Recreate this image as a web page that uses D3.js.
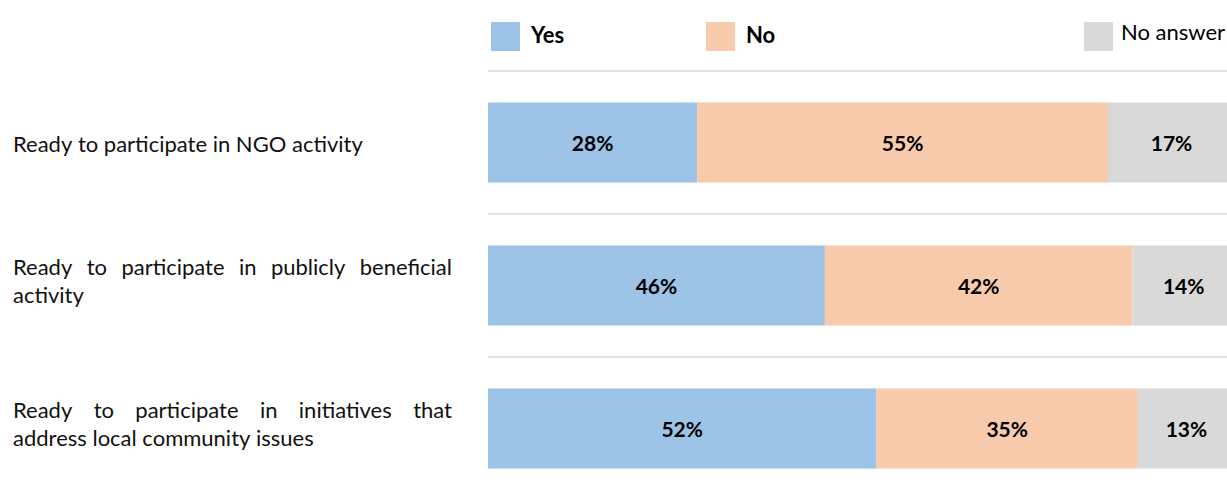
<!DOCTYPE html>
<html>
<head>
<meta charset="utf-8">
<script src="https://cdn.jsdelivr.net/npm/d3@7"></script>
<style>
  html, body { margin: 0; padding: 0; background: #fff; }
  svg { display: block; }
  text { font-family: Lato, "Open Sans", sans-serif; }
</style>
</head>
<body>
<div id="chart"></div>
<script>
// ---- data ----
const categories = [
  "Ready to participate in NGO activity",
  "Ready to participate in publicly beneficial\nactivity",
  "Ready to participate in initiatives that\naddress local community issues"
];
const seriesNames = ["Yes", "No", "No answer"];
const yesValues = [28, 46, 52];
const noValues = [55, 42, 35];
const noAnswerValues = [17, 14, 13];
const colors = ["#9DC3E6", "#F8CBAD", "#D9D9D9"];

// ---- layout ----
const W = 1227, H = 492;
const svg = d3.select("#chart").append("svg").attr("width", W).attr("height", H);

const seriesValues = [yesValues, noValues, noAnswerValues];
const rows = categories.map((c, i) => {
  const vals = seriesValues.map(s => s[i]);
  const total = d3.sum(vals);
  let acc = 0;
  const segs = vals.map((v, k) => {
    const s = { key: seriesNames[k], k, v, x0: acc / total, x1: (acc + v) / total };
    acc += v;
    return s;
  });
  return { cat: c, i, segs };
});

const x = d3.scaleLinear().domain([0, 1]).range([488, 1235]);
const y = d3.scaleBand().domain(d3.range(categories.length)).range([71, 500])
  .paddingInner(0.44).paddingOuter(0.22);
const step = y.step();

// gridlines (band boundaries)
const gridY = d3.range(categories.length + 1).map(i => y.range()[0] + i * step);
svg.append("g").selectAll("line").data(gridY).join("line")
  .attr("x1", 488).attr("x2", W)
  .attr("y1", d => d).attr("y2", d => d)
  .attr("stroke", "#d9d9d9").attr("stroke-width", 1.3);

// bars
const rowG = svg.append("g").selectAll("g").data(rows).join("g")
  .attr("transform", d => `translate(0,${y(d.i)})`);
rowG.selectAll("rect").data(d => d.segs).join("rect")
  .attr("x", d => x(d.x0)).attr("width", d => x(d.x1) - x(d.x0))
  .attr("y", 0).attr("height", y.bandwidth())
  .attr("fill", d => colors[d.k]);
rowG.selectAll("text.val").data(d => d.segs).join("text")
  .attr("class", "val")
  .attr("x", d => (x(d.x0) + Math.min(x(d.x1), W)) / 2 + (d.k === 2 ? 4 : 0))
  .attr("y", y.bandwidth() / 2 + 9)
  .attr("text-anchor", "middle")
  .attr("font-weight", "bold").attr("font-size", 21)
  .attr("fill", "#000")
  .text(d => d.v + "%");

// category labels (justified)
const labelLeft = 13, labelRight = 452, fs = 22, lineH = 28;
rows.forEach(r => {
  const lines = r.cat.split("\n");
  const cy = y(r.i) + y.bandwidth() / 2;
  const firstBase = lines.length === 1 ? cy + 9 : cy - 11;
  const g = svg.append("g");
  const measure = g.append("text").attr("font-size", fs);
  measure.text("a a"); const a = measure.node().getComputedTextLength();
  measure.text("aa"); const b = measure.node().getComputedTextLength();
  measure.remove();
  const spaceW = a - b;
  lines.forEach((ln, li) => {
    const base = firstBase + li * lineH;
    const words = ln.split(" ");
    const justify = li < lines.length - 1;
    const tmp = words.map(w => g.append("text").attr("font-size", fs).attr("fill", "#111").attr("y", base).text(w));
    const widths = tmp.map(t => t.node().getComputedTextLength());
    const gapW = justify && words.length > 1 ? (labelRight - labelLeft - d3.sum(widths)) / (words.length - 1) : spaceW;
    let cx = labelLeft;
    tmp.forEach((t, k) => { t.attr("x", cx); cx += widths[k] + gapW; });
  });
});

// legend
const legendItems = [
  { name: seriesNames[0], k: 0, x: 491, bold: true, ty: 43 },
  { name: seriesNames[1], k: 1, x: 706, bold: true, ty: 43 },
  { name: seriesNames[2], k: 2, x: 1084, bold: false, ty: 40 }
];
const lg = svg.append("g").selectAll("g").data(legendItems).join("g");
lg.append("rect").attr("x", d => d.x).attr("y", 22).attr("width", 29).attr("height", 29)
  .attr("fill", d => colors[d.k]);
lg.append("text").attr("x", d => d.x + (d.bold ? 40 : 37)).attr("y", d => d.ty)
  .attr("font-size", 22).attr("font-weight", d => d.bold ? "bold" : "normal")
  .attr("fill", "#000").text(d => d.name);
</script>
</body>
</html>
